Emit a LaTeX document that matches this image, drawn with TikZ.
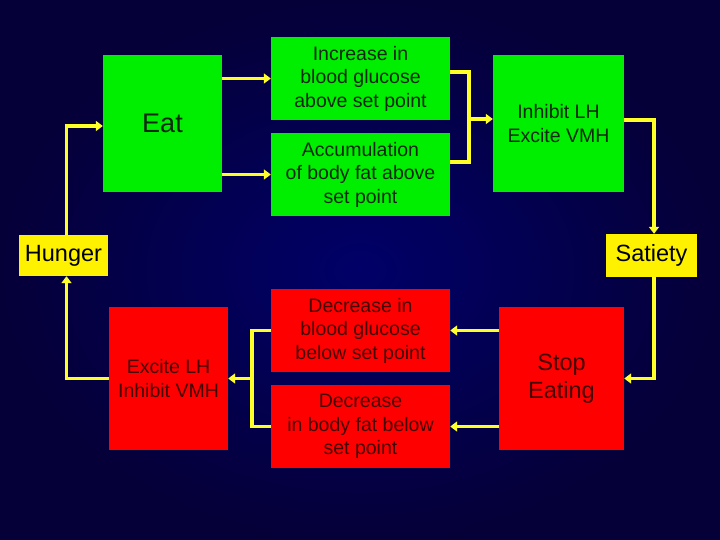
\documentclass[tikz,border=0pt]{standalone}
\usepackage{fontspec}
\setmainfont{Liberation Sans}
\usetikzlibrary{arrows.meta}
\definecolor{navyin}{RGB}{0,0,104}
\definecolor{navyout}{RGB}{5,0,56}
\definecolor{boxgreen}{RGB}{0,238,0}
\definecolor{boxred}{RGB}{255,0,0}
\definecolor{wireyellow}{RGB}{255,255,40}
\definecolor{inkgreen}{RGB}{10,40,10}
\definecolor{inkred}{RGB}{70,0,0}
\begin{document}
\begin{tikzpicture}[x=1pt,y=-1pt,
    box/.style={inner sep=0pt,align=center,font=\fontsize{19.5}{23.5}\selectfont},
    gbox/.style={box,fill=boxgreen,text=inkgreen},
    rbox/.style={box,fill=boxred,text=inkred},
    ybox/.style={box,fill=yellow,font=\fontsize{23.5}{28}\selectfont},
    wire/.style={wireyellow,line width=3.3pt},
    arr/.style={wire,-{Triangle[length=7pt,width=10pt]}}]
    		\shade[inner color=navyin,outer color=navyout] (0,0) rectangle (720,540);
    		\node at (162.5,123.5) [gbox,minimum width=119pt,minimum height=137pt,font=\fontsize{27}{32}\selectfont] (eat) {Eat};
    		\node at (360.5,78.5) [gbox,minimum width=179pt,minimum height=83pt] (incr) {Increase in\\blood glucose\\above set point};
    		\node at (360.5,174.5) [gbox,minimum width=179pt,minimum height=83pt] (accum) {Accumulation\\of body fat above\\set point};
    		\node at (558.5,123.5) [gbox,minimum width=131pt,minimum height=137pt] (inhib) {Inhibit LH\\Excite VMH};
    		\node at (651.5,255.5) [ybox,minimum width=91pt,minimum height=43pt] (satiety) {Satiety};
    		\node at (63.5,255.5) [ybox,minimum width=89pt,minimum height=41pt] (hunger) {Hunger};
    		\node at (168.5,378.5) [rbox,minimum width=119pt,minimum height=143pt] (excite) {Excite LH\\Inhibit VMH};
    		\node at (360.5,330.5) [rbox,minimum width=179pt,minimum height=83pt] (decg) {Decrease in\\blood glucose\\below set point};
    		\node at (360.5,426.5) [rbox,minimum width=179pt,minimum height=83pt] (decf) {Decrease\\in body fat below\\set point};
    		\node at (561.5,378.5) [rbox,minimum width=125pt,minimum height=143pt,font=\fontsize{23.5}{28}\selectfont] (stop) {Stop\\Eating};
    		\coordinate (jt) at (469,119);
    		\coordinate (jb) at (252,378.5);
    		\draw [arr] ([xshift=3pt]hunger.north) |- ([yshift=-2.5pt]eat.west);
    		\draw [arr] (eat.east |- incr.west) -- (incr.west);
    		\draw [arr] (eat.east |- accum.west) -- (accum.west);
    		\draw [wire] ([yshift=6.5pt]incr.east) -| (jt) |- ([yshift=12.5pt]accum.east);
    		\draw [arr] (jt) -- (inhib.west |- jt);
    		\draw [arr] ([yshift=3.5pt]inhib.east) -| ([xshift=2.5pt]satiety.north);
    		\draw [arr] ([xshift=2.5pt]satiety.south) |- (stop.east);
    		\draw [arr] (stop.west |- decg.east) -- (decg.east);
    		\draw [arr] (stop.west |- decf.east) -- (decf.east);
    		\draw [wire] (decg.west) -| (jb) |- (decf.west);
    		\draw [arr] (jb) -- (excite.east);
    		\draw [arr] (excite.west) -| ([xshift=3pt]hunger.south);
\end{tikzpicture}
\end{document}
